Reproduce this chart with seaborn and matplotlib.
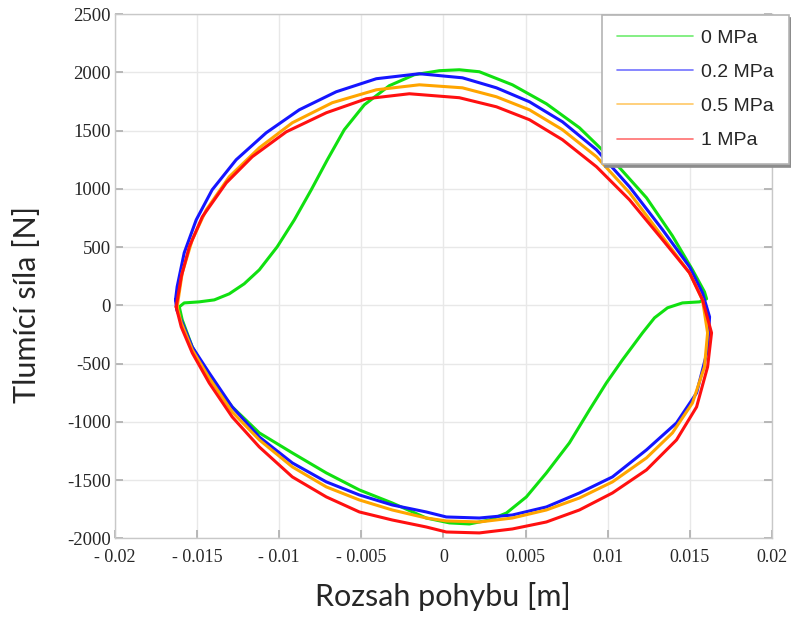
import numpy as np
import pandas as pd
import matplotlib
matplotlib.use("Agg")
import matplotlib.pyplot as plt
import seaborn as sns

# ----------------------------
# Data (hysteresis loops)
# ----------------------------
labels = ["0 MPa", "0.2 MPa", "0.5 MPa", "1 MPa"]
colors = ["#10e010", "#1515ff", "#ffa500", "#ff1010"]

x_0 = [-0.01607, -0.01577, -0.01486, -0.01394, -0.01303, -0.01212, -0.0112, -0.01011,
       -0.00907, -0.00804, -0.00706, -0.00603, -0.00481, -0.00329, -0.00177, -0.00024,
       0.00097, 0.00219, 0.0042, 0.00627, 0.00828, 0.01029, 0.01236, 0.01394, 0.01516,
       0.01589, 0.01602, 0.01559, 0.01455, 0.01364, 0.01285, 0.01212, 0.0109, 0.00992,
       0.00889, 0.00767, 0.00627, 0.00505, 0.00384, 0.0028, 0.00158, 0.00037, -0.00104,
       -0.00311, -0.00511, -0.00712, -0.00919, -0.0112, -0.01285, -0.01425, -0.01528,
       -0.01589]
y_0 = [-13, 21, 30, 47, 99, 185, 305, 503, 734, 992, 1250, 1508, 1722, 1886, 1980, 2015,
       2023, 2006, 1894, 1731, 1525, 1250, 924, 597, 305, 116, 56, 30, 21, -21, -107,
       -236, -468, -666, -898, -1181, -1439, -1645, -1783, -1843, -1877, -1868, -1826,
       -1697, -1585, -1439, -1267, -1095, -872, -614, -357, -125]

x_02 = [-0.0163, -0.0162, -0.01577, -0.01504, -0.01407, -0.01261, -0.01078, -0.00877,
        -0.00652, -0.00408, -0.00146, 0.00116, 0.00323, 0.00524, 0.00725, 0.00932,
        0.01133, 0.01334, 0.01498, 0.01577, 0.01602, 0.0162, 0.01608, 0.01541, 0.01419,
        0.01236, 0.01029, 0.00828, 0.00627, 0.0042, 0.00219, 0.00018, -0.00104, -0.00311,
        -0.00511, -0.00712, -0.00919, -0.0112, -0.01285, -0.01425, -0.01528, -0.01589,
        -0.01622]
y_02 = [47, 160, 451, 734, 992, 1250, 1482, 1679, 1834, 1946, 1989, 1954, 1868, 1748,
        1576, 1336, 1018, 649, 331, 107, -13, -99, -382, -752, -1009, -1241, -1473,
        -1611, -1731, -1800, -1826, -1817, -1774, -1714, -1628, -1516, -1353, -1130,
        -872, -580, -357, -150, -40]

x_05 = [-0.0162, -0.01589, -0.01528, -0.01443, -0.01303, -0.0112, -0.00919, -0.00676,
        -0.00408, -0.00146, 0.00116, 0.00323, 0.00524, 0.00725, 0.00932, 0.01133,
        0.01334, 0.01498, 0.01577, 0.01608, 0.01589, 0.01516, 0.01394, 0.01236, 0.01029,
        0.00828, 0.00627, 0.0042, 0.00219, 0.00018, -0.00104, -0.00311, -0.00511,
        -0.00712, -0.00919, -0.0112, -0.01285, -0.01425, -0.01528, -0.01595]
y_05 = [-13, 279, 563, 820, 1104, 1353, 1568, 1740, 1851, 1894, 1868, 1791, 1679, 1508,
        1276, 966, 588, 279, 47, -236, -528, -838, -1095, -1310, -1516, -1654, -1757,
        -1826, -1860, -1851, -1826, -1757, -1671, -1559, -1387, -1155, -915, -623,
        -382, -150]

x_1 = [-0.01626, -0.01595, -0.01546, -0.01467, -0.01321, -0.01163, -0.00956, -0.00712,
       -0.00469, -0.00207, 0.00097, 0.00323, 0.00524, 0.00725, 0.00932, 0.01133, 0.01334,
       0.01498, 0.01577, 0.01632, 0.01608, 0.01541, 0.01419, 0.01236, 0.01029, 0.00828,
       0.00627, 0.0042, 0.00219, 0.00018, -0.00104, -0.00311, -0.00511, -0.00712,
       -0.00919, -0.0112, -0.01285, -0.01425, -0.01528, -0.01595]
y_1 = [-13, 245, 503, 760, 1052, 1276, 1490, 1654, 1774, 1817, 1783, 1705, 1594, 1422,
       1190, 906, 563, 279, 47, -236, -528, -872, -1155, -1413, -1611, -1757, -1860,
       -1920, -1954, -1946, -1903, -1843, -1774, -1645, -1473, -1216, -958, -666, -408,
       -185]

xs = [x_0, x_02, x_05, x_1]
ys = [y_0, y_02, y_05, y_1]

xticks = [-0.02, -0.015, -0.01, -0.005, 0, 0.005, 0.01, 0.015, 0.02]
xticklabels = ["- 0.02", "- 0.015", "- 0.01", "- 0.005", "0", "0.005", "0.01", "0.015", "0.02"]
yticks = [-2000, -1500, -1000, -500, 0, 500, 1000, 1500, 2000, 2500]

# long table, each loop closed on its first point
frames = []
for lab, x, y in zip(labels, xs, ys):
    frames.append(pd.DataFrame({"x": x + x[:1], "y": y + y[:1], "tlak": lab}))
df = pd.concat(frames, ignore_index=True)

# ----------------------------
# Plot
# ----------------------------
sns.set_theme(style="whitegrid")
plt.rcParams["font.family"] = ["DejaVu Sans"]

fig = plt.figure(figsize=(7.91, 6.18), dpi=100)
ax = fig.add_axes([0.145, 0.129, 0.831, 0.848])

sns.lineplot(data=df, x="x", y="y", hue="tlak", palette=colors, hue_order=labels,
             sort=False, estimator=None, linewidth=2.2, ax=ax, legend=False)

ax.set_xlim(-0.02, 0.02)
ax.set_ylim(-2000, 2500)
ax.set_xticks(xticks)
ax.set_xticklabels(xticklabels, fontfamily="Liberation Serif", fontsize=13)
ax.set_yticks(yticks)
ax.set_yticklabels([str(v) for v in yticks], fontfamily="Liberation Serif", fontsize=13.5)
ax.grid(True, color="#e8e8e8", linewidth=1)
for s in ax.spines.values():
    s.set_color("#c8c8c8")
    s.set_linewidth(1)
ax.tick_params(direction="in", length=6, color="#b0b0b0", top=False, right=True,
               left=True, bottom=True)
ax.tick_params(axis="y", pad=3)
ax.tick_params(axis="x", pad=8)

ax.set_xlabel("Rozsah pohybu [m]", fontfamily="Lato", fontsize=22, labelpad=11)
ax.set_ylabel("Tlumící síla [N]", fontfamily="Lato", fontsize=22)
ax.yaxis.set_label_coords(-0.112, 0.447)

# legend with thin pale lines, sitting over the right edge like the original
handles = [plt.Line2D([], [], color=c, linewidth=1.2, alpha=0.6) for c in colors]
leg = fig.legend(handles, labels, loc="upper right", bbox_to_anchor=(0.997, 0.976),
                 borderaxespad=0, frameon=True, fancybox=False, handlelength=3.9,
                 handletextpad=0.45, labelspacing=0.85, borderpad=0.75,
                 shadow={"ox": 2, "oy": -2, "color": "#8c8c8c", "alpha": 1},
                 prop={"family": "Liberation Sans", "size": 14})
leg.get_frame().set_edgecolor("#b4b4b4")
leg.get_frame().set_linewidth(1.2)
leg.get_frame().set_alpha(1)

fig.savefig("out.png", dpi=100)
plt.close(fig)
